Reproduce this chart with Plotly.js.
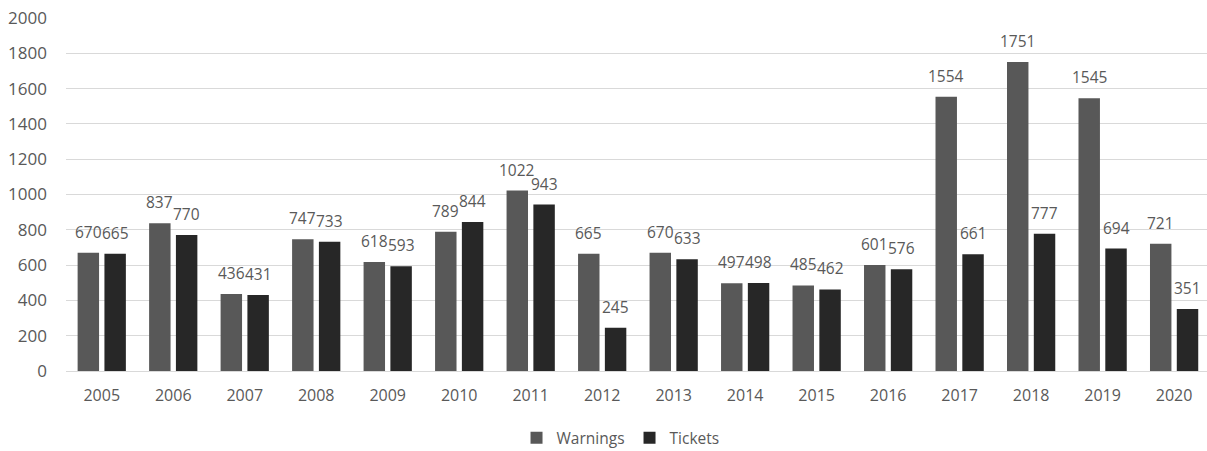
<!DOCTYPE html>
<html>
<head>
<meta charset="utf-8">
<script src="https://cdn.plot.ly/plotly-3.0.1.min.js"></script>
<style>html,body{margin:0;padding:0;background:#fff;}#chart{width:1207px;height:451px;}</style>
</head>
<body>
<div id="chart"></div>
<script>
const years = ['2005','2006','2007','2008','2009','2010','2011','2012','2013','2014','2015','2016','2017','2018','2019','2020'];
const warnings = [670,837,436,747,618,789,1022,665,670,497,485,601,1554,1751,1545,721];
const tickets = [665,770,431,733,593,844,943,245,633,498,462,576,661,777,694,351];
const yTicks = [0,200,400,600,800,1000,1200,1400,1600,1800,2000];

const font = 'Open Sans, Lato, sans-serif';
const textColor = '#595959';
const bargap = 0.25;
const slot = (1 - bargap) / 2;

const traces = [
  {type:'bar', name:'Warnings', x: years, y: warnings,
   marker:{color:'#585858'}, hoverinfo:'x+y'},
  {type:'bar', name:'Tickets', x: years, y: tickets,
   marker:{color:'#272727'}, hoverinfo:'x+y'}
];

const annotations = [];
years.forEach((yr, i) => {
  annotations.push({x: i - slot/2, y: warnings[i], xref:'x', yref:'y', text: String(warnings[i]),
    showarrow:false, yanchor:'bottom', xanchor:'center', yshift:8, font:{family:font, size:15.5, color:textColor}});
  annotations.push({x: i + slot/2, y: tickets[i], xref:'x', yref:'y', text: String(tickets[i]),
    showarrow:false, yanchor:'bottom', xanchor:'center', yshift:8, font:{family:font, size:15.5, color:textColor}});
});

const layout = {
  width:1207, height:451,
  margin:{l:66, r:0, t:18, b:80, autoexpand:false},
  paper_bgcolor:'#fff', plot_bgcolor:'#fff',
  barmode:'group', bargap: bargap, bargroupgap:0.2,
  font:{family: font, size:16, color:textColor},
  xaxis:{type:'category', range:[-0.5, 15.46], showgrid:false, zeroline:false, showline:true, linecolor:'#d9d9d9', linewidth:1,
         ticks:'', tickfont:{family:font, size:16, color:textColor}, ticklabelstandoff:10},
  yaxis:{range:[0,2000], tickvals:yTicks, ticktext:yTicks.map(String), showgrid:true, gridcolor:'#d9d9d9', gridwidth:1,
         zeroline:false, showline:false, ticks:'', tickfont:{family:font, size:17, color:textColor}, ticklabelstandoff:18},
  legend:{orientation:'h', x:0.486, xanchor:'center', y:-0.19, yanchor:'middle',
          font:{family:font, size:15.5, color:textColor}, itemwidth:30, traceorder:'normal'},
  annotations: annotations,
  showlegend:true
};

Plotly.newPlot('chart', traces, layout, {displayModeBar:false, staticPlot:true});
</script>
</body>
</html>
